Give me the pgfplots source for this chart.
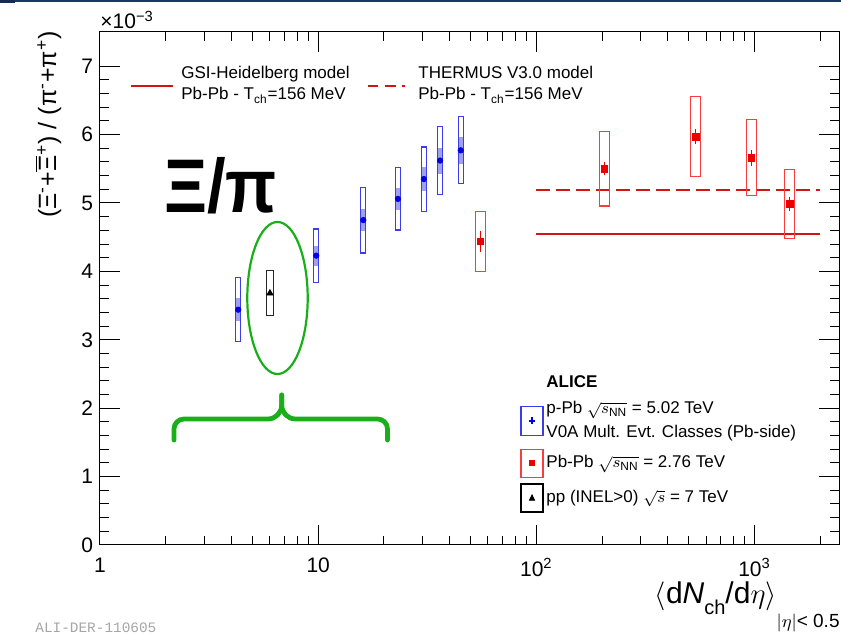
\documentclass[border=0pt]{standalone}
\usepackage{pgfplots}
\pgfplotsset{compat=1.18}
\usepackage{pgfplotstable}
\usepackage{fontspec}
\setmainfont{Liberation Sans}
\newfontfamily\monofont{Liberation Mono}

\definecolor{mblue}{RGB}{0,0,225}
\definecolor{bbox}{RGB}{60,60,235}
\definecolor{bfill}{RGB}{160,160,238}
\definecolor{mred}{RGB}{235,0,0}
\definecolor{rbox}{RGB}{250,60,60}
\definecolor{mline}{RGB}{210,20,20}
\definecolor{agreen}{RGB}{25,175,25}
\definecolor{navy}{RGB}{25,55,105}

\pgfdeclareplotmark{sysbox}{%
  \pgfpathrectangle{\pgfpoint{-\pgfplotmarksize}{-\vsys pt}}{\pgfpoint{2\pgfplotmarksize}{2*\vsys pt}}%
  \pgfusepathqstroke}
\pgfdeclareplotmark{uncbox}{%
  \pgfpathrectangle{\pgfpoint{-\pgfplotmarksize}{-\vunc pt}}{\pgfpoint{2\pgfplotmarksize}{2*\vunc pt}}%
  \pgfusepathqfill}

% p-Pb 5.02 TeV
\pgfplotstableread{
x     y     stat  sys    unc
4.3   3.44  0.06  0.47   0.165
9.8   4.23  0.06  0.39   0.146
16.1  4.75  0.05  0.48   0.156
23.2  5.06  0.05  0.455  0.16
30.5  5.35  0.05  0.47   0.17
36.2  5.62  0.05  0.50   0.19
45.0  5.77  0.05  0.49   0.195
}\ppbdata
% Pb-Pb 2.76 TeV
\pgfplotstableread{
x     y     stat  sys
55.5  4.44  0.11  0.436
205   5.50  0.05  0.543
537   5.97  0.06  0.585
966   5.66  0.07  0.556
1448  4.985 0.06  0.50
}\pbpbdata
% pp 7 TeV
\pgfplotstableread{
x     y     stat  sys
6.01  3.68  0.03  0.33
}\ppdata

\begin{document}
\begin{tikzpicture}
\begin{axis}[
  name=ax, scale only axis, width=369.75pt, height=256.5pt,
  xmode=log, xmin=1, xmax=2450, ymin=0, ymax=7.5,
  axis line style={line width=0.5pt, black},
  tick style={line width=0.5pt, black},
  xtick={1,10,100,1000},
  xticklabels={1,10,10\textsuperscript{2},10\textsuperscript{3}},
  minor xtick={2,3,4,5,6,7,8,9,20,30,40,50,60,70,80,90,200,300,400,500,600,700,800,900,2000},
  ytick={0,1,2,3,4,5,6,7}, minor y tick num=4,
  major tick length=10pt, minor tick length=4.7pt,
  tick align=inside,
  tick label style={font=\fontsize{10.5}{12}\selectfont},
  xticklabel style={yshift=-3pt},
  /pgf/number format/assume math mode=true,
  legend style={at={(rel axis cs:0.568,0.337)}, anchor=north west, draw=none, fill=none,
    font=\fontsize{8.5}{11.7}\selectfont, row sep=2.8pt, inner sep=0pt,
    nodes={inner sep=1.4pt}, cells={align=left}},
  legend cell align=left,
]
% model lines
\addplot[forget plot, mline, line width=1pt] coordinates {(100,4.54) (2000,4.54)};
\addplot[forget plot, mline, line width=1pt, dash pattern=on 7pt off 3pt] coordinates {(100,5.19) (2000,5.19)};

% p-Pb boxes
\addplot[forget plot, only marks, scatter, scatter/@pre marker code/.code={}, scatter/@post marker code/.code={},
  mark=uncbox, mark size=1.25pt, color=bfill, fill=bfill,
  visualization depends on={34.2*\thisrow{unc} \as \vunc}] table[x=x,y=y] {\ppbdata};
\addplot[forget plot, only marks, scatter, scatter/@pre marker code/.code={}, scatter/@post marker code/.code={},
  mark=sysbox, mark size=1.25pt, color=bbox, mark options={line width=0.6pt},
  visualization depends on={34.2*\thisrow{sys} \as \vsys}] table[x=x,y=y] {\ppbdata};
\addplot[forget plot, only marks, mblue, mark=*, mark size=1.35pt,
  error bars/y dir=both, error bars/y explicit,
  error bars/error bar style={line width=0.6pt},
  error bars/error mark options={mark size=1.7pt, line width=0.6pt}]
  table[x=x,y=y,y error=stat] {\ppbdata};

% Pb-Pb
\addplot[forget plot, only marks, scatter, scatter/@pre marker code/.code={}, scatter/@post marker code/.code={},
  mark=sysbox, mark size=2.6pt, color=rbox, mark options={line width=0.6pt},
  visualization depends on={34.2*\thisrow{sys} \as \vsys}] table[x=x,y=y] {\pbpbdata};
\addplot[forget plot, only marks, mred, mark=square*, mark size=1.65pt,
  error bars/y dir=both, error bars/y explicit,
  error bars/error bar style={line width=0.5pt},
  error bars/error mark options={mark size=1.6pt, line width=0.5pt}]
  table[x=x,y=y,y error=stat] {\pbpbdata};

% pp
\addplot[forget plot, only marks, scatter, scatter/@pre marker code/.code={}, scatter/@post marker code/.code={},
  mark=sysbox, mark size=1.8pt, color=black!85, mark options={line width=0.6pt},
  visualization depends on={34.2*\thisrow{sys} \as \vsys}] table[x=x,y=y] {\ppdata};
\addplot[forget plot, only marks, black, mark=triangle*, mark size=1.8pt,
  error bars/y dir=both, error bars/y explicit, error bars/error mark=none]
  table[x=x,y=y,y error=stat] {\ppdata};

% legend
\addlegendimage{empty legend}
\addlegendentry{\textbf{ALICE}}
\addlegendimage{legend image code/.code={\draw[bbox, line width=0.6pt] (0pt,-7.3pt) rectangle (11pt,7.3pt); \draw[mblue, line width=0.8pt] (3.8pt,0pt)--(7.2pt,0pt) (5.5pt,-1.8pt)--(5.5pt,1.8pt);}}
\addlegendentry{p-Pb $\sqrt{s_{\mathrm{NN}}}$ = 5.02 TeV\\V0A Mult. Evt. Classes (Pb-side)}
\addlegendimage{legend image code/.code={\draw[rbox, line width=0.6pt] (0pt,-7pt) rectangle (11pt,7pt); \fill[mred] (4.3pt,-1.2pt) rectangle (6.7pt,1.2pt);}}
\addlegendentry{Pb-Pb $\sqrt{s_{\mathrm{NN}}}$ = 2.76 TeV}
\addlegendimage{legend image code/.code={\draw[black, line width=0.6pt] (0pt,-7pt) rectangle (11pt,7pt); \fill[black] (4.2pt,-1.2pt) -- (6.8pt,-1.2pt) -- (5.5pt,1.5pt) -- cycle;}}
\addlegendentry{pp (INEL>0) $\sqrt{s}$ = 7 TeV}
\end{axis}

\begin{scope}[shift={(ax.north west)}, xshift=-50pt, yshift=16pt, x=0.5pt, y=-0.5pt]
  % header line
  \fill[navy] (0,0) rectangle (841,1.6);
  \fill[navy!80!black] (0,0) rectangle (15,2.7);
  % axis texts
  \node[anchor=base west, inner sep=0, font=\fontsize{10.5}{12}\selectfont] at (100,29) {×10\textsuperscript{−3}};
  \node[rotate=90, anchor=east, inner sep=0, font=\fontsize{12.5}{14}\selectfont] at (48,31)
    {(Ξ\textsuperscript{-}+$\overline{\mbox{Ξ}}$\textsuperscript{+}) / (π\textsuperscript{-}+π\textsuperscript{+})};
  \node[anchor=base east, inner sep=0, font=\fontsize{15}{17}\selectfont] at (840,603)
    {$\langle$d\textit{N}\raisebox{-5.5pt}{\fontsize{10}{12}\selectfont ch}/d$\eta\rangle$\raisebox{-12pt}{\fontsize{9.5}{12}\selectfont $|\eta|$< 0.5}};
  % model legend
  \draw[mline, line width=1pt] (131,86) -- (173,86);
  \node[anchor=base west, inner sep=0, font=\fontsize{8.5}{10}\selectfont] at (181,79) {GSI-Heidelberg model};
  \node[anchor=base west, inner sep=0, font=\fontsize{8.5}{10}\selectfont] at (181,100) {Pb-Pb - T\textsubscript{ch}=156 MeV};
  \draw[mline, line width=1pt, dash pattern=on 5.3pt off 3.3pt] (367.7,86) -- (405,86);
  \node[anchor=base west, inner sep=0, font=\fontsize{8.5}{10}\selectfont] at (418,79) {THERMUS V3.0 model};
  \node[anchor=base west, inner sep=0, font=\fontsize{8.5}{10}\selectfont] at (418,100) {Pb-Pb - T\textsubscript{ch}=156 MeV};
  % annotations
  \node[anchor=center, inner sep=0, font=\fontsize{38}{42}\selectfont\bfseries] at (220.5,186) {\scalebox{0.88}[1]{Ξ/π}};
  \draw[agreen, line width=1.1pt] (277.5,298) ellipse [x radius=15.1pt, y radius=38pt];
  \draw[agreen, line width=2.4pt, line cap=round, line join=round]
    (174,440) -- (174,429) to[out=90,in=180] (184,419) -- (268,419) to[out=0,in=-90] (281.7,405) -- (281.7,395);
  \draw[agreen, line width=2.4pt, line cap=round, line join=round]
    (281.7,395) -- (281.7,405) to[out=-90,in=180] (295.4,419) -- (377.5,419) to[out=0,in=90] (387.5,429) -- (387.5,440);
  % watermark
  \node[anchor=north west, inner sep=0, text=black!35, font=\monofont\fontsize{7.2}{8}\selectfont] at (35,622) {ALI-DER-110605};
  \pgfresetboundingbox
  \path[use as bounding box] (0,0) rectangle (841,633);
\end{scope}
\end{tikzpicture}
\end{document}
